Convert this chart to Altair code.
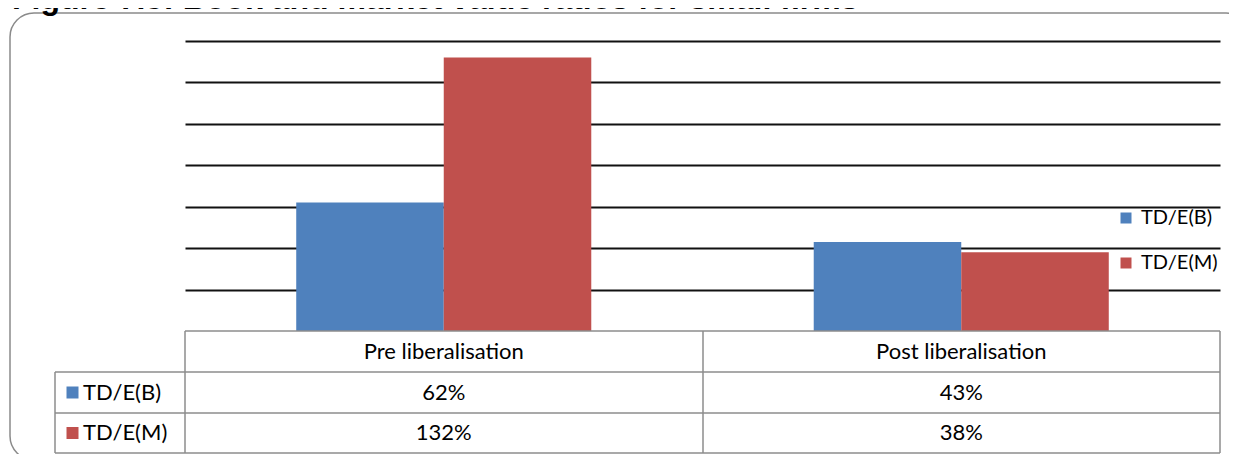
import altair as alt
import pandas as pd

categories = ["Pre liberalisation", "Post liberalisation"]
series = ["TD/E(B)", "TD/E(M)"]
values_b = [62, 43]
values_m = [132, 38]
colors = ["#4F81BD", "#C0504D"]
grid_values = [20, 40, 60, 80, 100, 120, 140]
title_text = "Figure 7.5: Book and market value ratios for small firms"

rows = []
for i, c in enumerate(categories):
    rows.append({"category": c, "series": series[0], "value": values_b[i], "label": f"{values_b[i]}%"})
    rows.append({"category": c, "series": series[1], "value": values_m[i], "label": f"{values_m[i]}%"})
df = pd.DataFrame(rows)
cat_df = pd.DataFrame({"category": categories})
ser_df = pd.DataFrame({"series": series})
one = pd.DataFrame({"a": [0]})

FONT = "Lato"
LINE = "#8c8c8c"
TFS = 22

x_scale = alt.Scale(domain=categories, paddingInner=0, paddingOuter=0)
color_scale = alt.Scale(domain=series, range=colors)

frame = alt.Chart(one).mark_rect(
    cornerRadius=24, fill="transparent", stroke="#8a8a8a", strokeWidth=1.5
).encode(
    x=alt.value(-175), x2=alt.value(1065), y=alt.value(-28), y2=alt.value(419)
)

title = alt.Chart(one).mark_text(
    text=title_text, font="Liberation Sans", fontWeight="bold", fontSize=32,
    align="left", baseline="alphabetic", color="black"
).encode(x=alt.value(-173), y=alt.value(-32))

bars = alt.Chart(df).mark_bar().encode(
    x=alt.X("category:N", scale=x_scale, axis=None),
    xOffset=alt.XOffset("series:N", scale=alt.Scale(domain=series, paddingInner=0, paddingOuter=0.754)),
    y=alt.Y("value:Q", scale=alt.Scale(domain=[0, 140], nice=False),
            axis=alt.Axis(values=grid_values, grid=True, gridColor="#111111", gridWidth=2,
                          labels=False, ticks=False, domain=False, title=None)),
    color=alt.Color("series:N", scale=color_scale,
                    legend=alt.Legend(orient="none", legendX=931, legendY=167, title=None,
                                      symbolType="square", symbolSize=121, symbolStrokeWidth=0,
                                      labelFont=FONT, labelFontSize=20, labelColor="black",
                                      labelOffset=5, rowPadding=25, padding=0)),
)


def hline(x1, x2, y):
    return alt.Chart(one).mark_rule(color=LINE, strokeWidth=1.5).encode(
        x=alt.value(x1), x2=alt.value(x2), y=alt.value(y))


def vline(x, y1, y2):
    return alt.Chart(one).mark_rule(color=LINE, strokeWidth=1.5).encode(
        x=alt.value(x), y=alt.value(y1), y2=alt.value(y2))


lines = [
    hline(0, 1035, 290),
    hline(-130, 1035, 331),
    hline(-130, 1035, 372),
    hline(-130, 1035, 412),
    vline(0, 290, 412),
    vline(518, 290, 412),
    vline(1035, 290, 412),
    vline(-130, 331, 412),
]

header = alt.Chart(cat_df).mark_text(font=FONT, fontSize=TFS, color="black", baseline="middle").encode(
    x=alt.X("category:N", scale=x_scale, axis=None), text="category:N", y=alt.value(310.5))

row_y = [351.5, 392]
cells = []
for s, ry in zip(series, row_y):
    cells.append(
        alt.Chart(df).transform_filter(alt.datum.series == s).mark_text(
            font=FONT, fontSize=TFS, color="black", baseline="middle").encode(
            x=alt.X("category:N", scale=x_scale, axis=None), text="label:N", y=alt.value(ry)))
    cells.append(
        alt.Chart(ser_df).transform_filter(alt.datum.series == s).mark_square(size=144, opacity=1).encode(
            x=alt.value(-112.5), y=alt.value(ry),
            color=alt.Color("series:N", scale=color_scale, legend=None)))
    cells.append(
        alt.Chart(ser_df).transform_filter(alt.datum.series == s).mark_text(
            font=FONT, fontSize=TFS, color="black", align="left", baseline="middle").encode(
            x=alt.value(-102), y=alt.value(ry), text="series:N"))

chart = alt.layer(frame, title, bars, *lines, header, *cells).properties(
    width=1035, height=290,
    autosize=alt.AutoSizeParams(type="none"),
    padding={"left": 177, "top": 33, "right": 9, "bottom": 123},
).configure_view(strokeWidth=0)

chart.save("out.html", embed_options={"renderer": "svg", "actions": False})
